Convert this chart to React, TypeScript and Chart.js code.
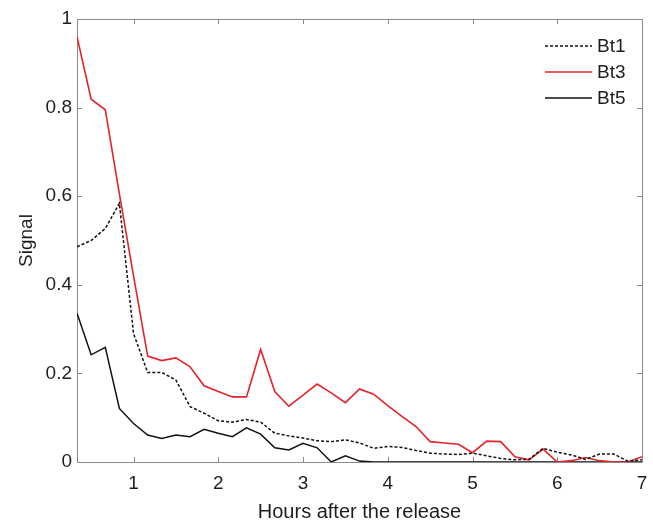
import React, { useEffect, useRef } from "react";
import { Chart, registerables } from "chart.js";

Chart.register(...registerables);

const hours = [
  0.333, 0.5, 0.667, 0.833, 1, 1.167, 1.333, 1.5, 1.667, 1.833,
  2, 2.167, 2.333, 2.5, 2.667, 2.833, 3, 3.167, 3.333, 3.5,
  3.667, 3.833, 4, 4.167, 4.333, 4.5, 4.667, 4.833, 5, 5.167,
  5.333, 5.5, 5.667, 5.833, 6, 6.167, 6.333, 6.5, 6.667, 6.833, 7,
];

const bt1 = [
  0.486, 0.5, 0.527, 0.584, 0.29, 0.202, 0.202, 0.185, 0.125, 0.11,
  0.093, 0.09, 0.096, 0.09, 0.065, 0.059, 0.054, 0.048, 0.046, 0.05,
  0.043, 0.031, 0.035, 0.033, 0.026, 0.02, 0.018, 0.017, 0.02, 0.014,
  0.008, 0.005, 0.006, 0.031, 0.022, 0.016, 0.006, 0.018, 0.018, 0.002, 0.005,
];

const bt3 = [
  0.96, 0.819, 0.795, 0.605, 0.42, 0.239, 0.229, 0.235, 0.215, 0.172,
  0.159, 0.147, 0.147, 0.254, 0.159, 0.126, 0.151, 0.176, 0.156, 0.134,
  0.165, 0.153, 0.127, 0.103, 0.08, 0.046, 0.043, 0.04, 0.021, 0.047,
  0.046, 0.012, 0.005, 0.029, 0.0, 0.003, 0.01, 0.003, 0, 0, 0.012,
];

const bt5 = [
  0.336, 0.242, 0.259, 0.121, 0.087, 0.061, 0.053, 0.061, 0.057, 0.074,
  0.065, 0.057, 0.077, 0.063, 0.032, 0.027, 0.042, 0.032, 0, 0.014,
  0.002, 0, 0, 0, 0, 0, 0, 0, 0, 0,
  0, 0, 0, 0, 0, 0, 0, 0, 0, 0, 0,
];

const xTicks = [1, 2, 3, 4, 5, 6, 7];
const yTicks = [0, 0.2, 0.4, 0.6, 0.8, 1];
const seriesLabels = ["Bt1", "Bt3", "Bt5"];

const FONT = "'Liberation Sans', Arial, sans-serif";
const AXIS_COLOR = "#8a8a8a";
const TEXT_COLOR = "#1e1e1e";

const boxPlugin = {
  id: "boxTicks",
  beforeDatasetsDraw(chart: any) {
    const { ctx, chartArea } = chart;
    const { left, right, top, bottom } = chartArea;
    const xs = chart.scales.x;
    const ys = chart.scales.y;
    ctx.save();
    ctx.strokeStyle = AXIS_COLOR;
    ctx.lineWidth = 1;
    ctx.beginPath();
    ctx.rect(Math.round(left) + 0.5, Math.round(top) + 0.5, Math.round(right - left), Math.round(bottom - top));
    ctx.stroke();
    const tl = 5;
    ctx.beginPath();
    xTicks.forEach((v) => {
      const px = Math.round(xs.getPixelForValue(v)) + 0.5;
      ctx.moveTo(px, bottom);
      ctx.lineTo(px, bottom - tl);
      ctx.moveTo(px, top);
      ctx.lineTo(px, top + tl);
    });
    yTicks.forEach((v) => {
      const py = Math.round(ys.getPixelForValue(v)) + 0.5;
      ctx.moveTo(left, py);
      ctx.lineTo(left + tl, py);
      ctx.moveTo(right, py);
      ctx.lineTo(right - tl, py);
    });
    ctx.stroke();
    ctx.restore();
  },
};

const legendPlugin = {
  id: "insideLegend",
  afterDatasetsDraw(chart: any) {
    const { ctx, chartArea } = chart;
    ctx.save();
    ctx.font = `19px ${FONT}`;
    ctx.textBaseline = "middle";
    ctx.textAlign = "left";
    chart.data.datasets.forEach((ds: any, i: number) => {
      const y = chartArea.top + 27 + i * 26;
      const x0 = chartArea.right - 97;
      const x1 = chartArea.right - 50;
      ctx.strokeStyle = ds.borderColor;
      ctx.lineWidth = ds.borderWidth;
      ctx.setLineDash(ds.borderDash || []);
      ctx.beginPath();
      ctx.moveTo(x0, y);
      ctx.lineTo(x1, y);
      ctx.stroke();
      ctx.setLineDash([]);
      ctx.fillStyle = TEXT_COLOR;
      ctx.fillText(ds.label, chartArea.right - 45, y + 1);
    });
    ctx.restore();
  },
};

export default function App() {
  const ref = useRef<HTMLCanvasElement>(null);

  useEffect(() => {
    if (!ref.current) return;
    const mk = (vals: number[]) => hours.map((h, i) => ({ x: h, y: vals[i] }));
    const chart = new Chart(ref.current, {
      type: "line",
      data: {
        datasets: [
          {
            label: seriesLabels[0],
            data: mk(bt1),
            borderColor: "#111111",
            borderWidth: 1.5,
            borderDash: [3, 2],
            pointRadius: 0,
            tension: 0,
          },
          {
            label: seriesLabels[1],
            data: mk(bt3),
            borderColor: "#e6222b",
            borderWidth: 1.6,
            pointRadius: 0,
            tension: 0,
          },
          {
            label: seriesLabels[2],
            data: mk(bt5),
            borderColor: "#111111",
            borderWidth: 1.5,
            pointRadius: 0,
            tension: 0,
          },
        ],
      },
      options: {
        responsive: false,
        animation: false,
        layout: { padding: { top: 19, right: 11, left: 0, bottom: 0 } },
        plugins: {
          legend: { display: false },
          tooltip: { enabled: false },
        },
        scales: {
          x: {
            type: "linear",
            min: 0.333,
            max: 7,
            afterBuildTicks: (s: any) => {
              s.ticks = xTicks.map((v) => ({ value: v }));
            },
            afterFit: (s: any) => {
              s.height = 60;
              s.paddingLeft = 0;
              s.paddingRight = 0;
            },
            grid: { display: false, drawTicks: false },
            border: { display: false },
            ticks: {
              padding: 10,
              color: TEXT_COLOR,
              font: { family: FONT, size: 19 },
              maxRotation: 0,
            },
            title: {
              display: true,
              text: "Hours after the release",
              color: TEXT_COLOR,
              font: { family: FONT, size: 20, lineHeight: 1 },
              padding: { top: 0, bottom: 0 },
            },
          },
          y: {
            type: "linear",
            min: 0,
            max: 1,
            afterBuildTicks: (s: any) => {
              s.ticks = yTicks.map((v) => ({ value: v }));
            },
            afterFit: (s: any) => {
              s.width = 77;
              s.paddingTop = 0;
              s.paddingBottom = 0;
            },
            grid: { display: false, drawTicks: false },
            border: { display: false },
            ticks: {
              padding: 5,
              color: TEXT_COLOR,
              font: { family: FONT, size: 19 },
              callback: (v: any) => String(Math.round(Number(v) * 10) / 10),
            },
            title: {
              display: true,
              text: "Signal",
              color: TEXT_COLOR,
              font: { family: FONT, size: 19, lineHeight: 1.2 },
              padding: { top: 15, bottom: 0 },
            },
          },
        },
      },
      plugins: [boxPlugin, legendPlugin],
    });
    return () => chart.destroy();
  }, []);

  return (
    <div style={{ position: "absolute", left: 0, top: 0, width: 653, height: 522, background: "#fff" }}>
      <canvas ref={ref} width={653} height={522} />
    </div>
  );
}
